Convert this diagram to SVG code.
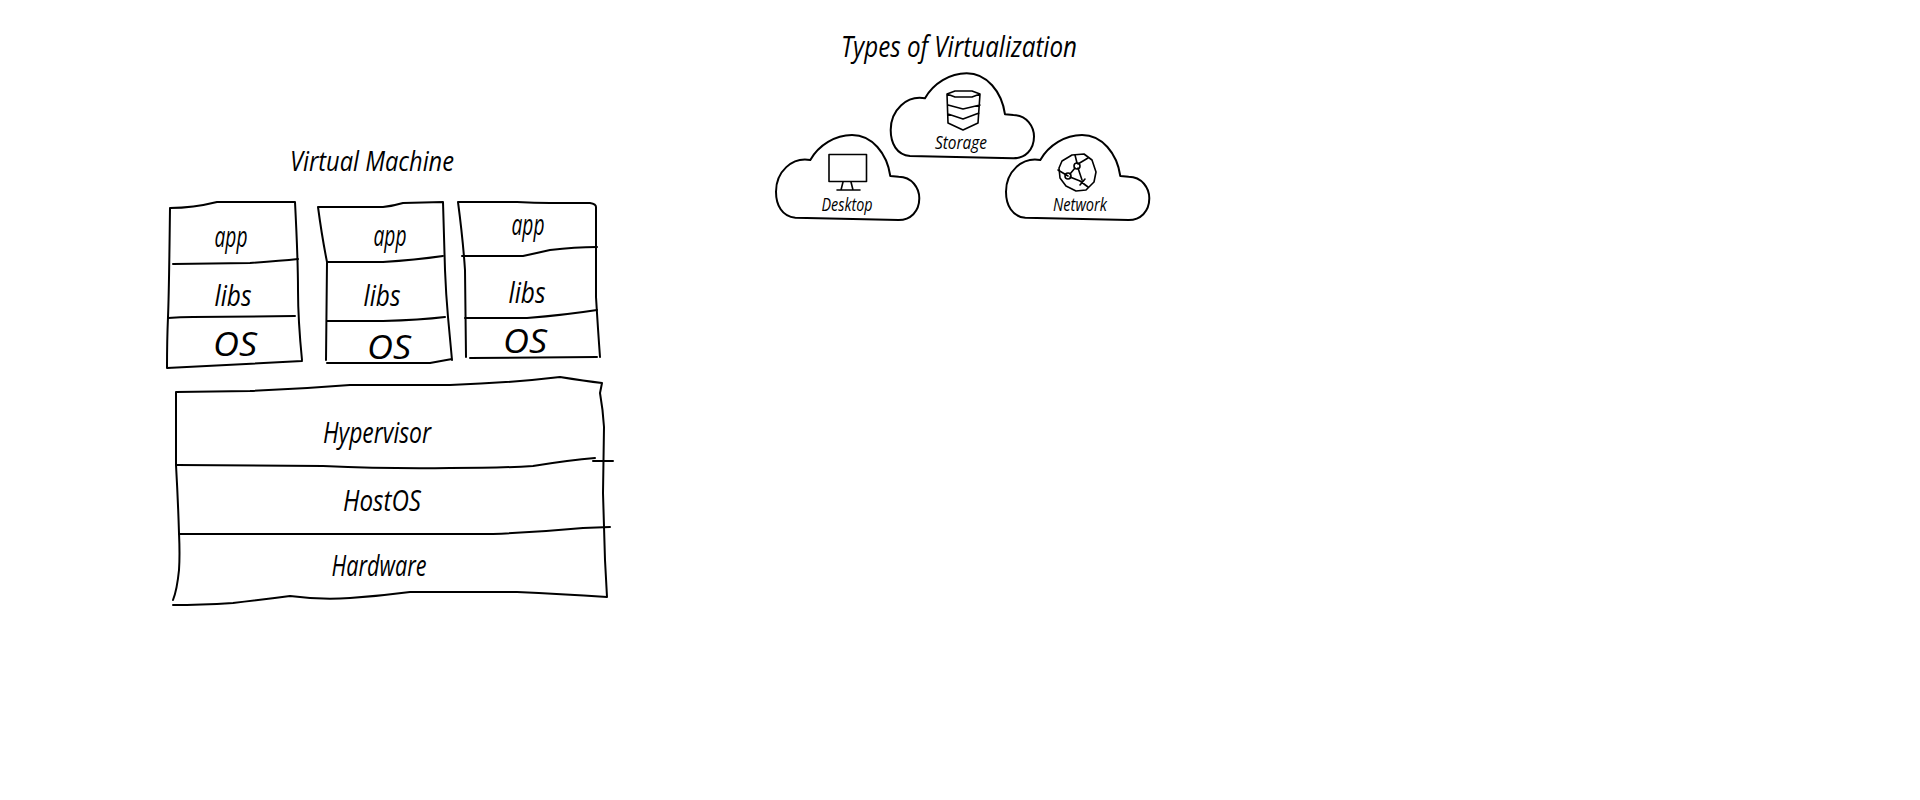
<svg xmlns="http://www.w3.org/2000/svg" width="1920" height="800" viewBox="0 0 1920 800">
<style>
.s{fill:none;stroke:#000;stroke-width:2;stroke-linecap:round;stroke-linejoin:round}
.i{fill:none;stroke:#000;stroke-width:1.6;stroke-linecap:round;stroke-linejoin:round}
text{font-family:"Open Sans","Liberation Sans",sans-serif;font-style:italic;font-weight:400;fill:#000;text-anchor:middle}
</style>
<defs>
<path id="cloud" class="s" d="M19.3 82.7C6 81.7 0 70 0 56.7C0 36.7 16 21.7 34.3 25C42.7 10 59.3 0 76 0C96 0 111 18.3 114.3 41L122.7 41.7C136 41.7 143.3 53.3 143.3 63.3C143.3 76.7 134.3 85 122.7 85Z"/>
</defs>
<rect width="1920" height="800" fill="#fff"/>
<g id="title-vm"><text x="372" y="171" font-size="28" textLength="164" lengthAdjust="spacingAndGlyphs">Virtual Machine</text></g>
<g id="title-types"><text x="959" y="57" font-size="29" textLength="236" lengthAdjust="spacingAndGlyphs">Types of Virtualization</text></g>
<g id="vm1">
<path class="s" d="M170 208Q193 208 217 202L295 202Q298 260 298 290T302 360M302 361L167 368Q167 340 168 317T170 208"/>
<path class="s" d="M173 264L250 263Q280 261 298 259M168 318Q180 317 193 317L295 316"/>
<text x="231" y="247" font-size="30" textLength="33" lengthAdjust="spacingAndGlyphs">app</text>
<text x="233" y="306" font-size="30" textLength="37" lengthAdjust="spacingAndGlyphs">libs</text>
<text x="235" y="356" font-size="33" textLength="44" lengthAdjust="spacingAndGlyphs">OS</text>
</g>
<g id="vm2">
<path class="s" d="M318 207L383 207Q393 206 403 203L443 202Q444 240 445 270Q446 295 448 317L452 360M327 363L430 363L452 359M318 207Q322 237 327 262L326 360"/>
<path class="s" d="M327 262L383 262Q415 260 443 256M327 321L383 321Q420 320 445 317"/>
<text x="390" y="246" font-size="30" textLength="33" lengthAdjust="spacingAndGlyphs">app</text>
<text x="382" y="306" font-size="30" textLength="37" lengthAdjust="spacingAndGlyphs">libs</text>
<text x="389" y="359" font-size="33" textLength="44" lengthAdjust="spacingAndGlyphs">OS</text>
</g>
<g id="vm3">
<path class="s" d="M458 202L517 202Q535 203 550 203L590 203Q596 204 596 207L596 297Q598 330 600 357M470 358L597 357M458 202Q463 240 465 270L466 357"/>
<path class="s" d="M462 256L523 256Q537 253 550 250Q575 247 597 247M465 318L527 318Q565 315 597 310"/>
<text x="528" y="235" font-size="30" textLength="33" lengthAdjust="spacingAndGlyphs">app</text>
<text x="527" y="303" font-size="30" textLength="37" lengthAdjust="spacingAndGlyphs">libs</text>
<text x="525" y="353" font-size="33" textLength="44" lengthAdjust="spacingAndGlyphs">OS</text>
</g>
<g id="stack">
<path class="s" d="M176 392L250 391Q300 389 350 385L450 385Q510 383 560 377Q585 381 602 383L600 393Q603 410 604 427L603 493Q604 530 605 560L607 597Q560 594 517 592L410 592Q380 596 350 598Q320 600 290 596Q260 600 233 603Q200 605 173 605M176 392L176 465Q178 500 179 533Q180 555 179 570Q177 590 173 600"/>
<path class="s" d="M177 465L323 466Q390 469 450 468Q500 468 533 466Q570 460 595 458M593 461L613 461M179 534L493 534Q540 532 583 528L610 527"/>
<text x="377" y="443" font-size="30" textLength="108" lengthAdjust="spacingAndGlyphs">Hypervisor</text>
<text x="382" y="511" font-size="29" textLength="78" lengthAdjust="spacingAndGlyphs">HostOS</text>
<text x="379" y="576" font-size="29" textLength="95" lengthAdjust="spacingAndGlyphs">Hardware</text>
</g>
<g id="storage">
<use href="#cloud" x="890.7" y="73.3"/>
<path class="i" d="M947 94L955 91L972 91L980 94L972 97L955 97ZM947 94L948 123L963 130L978 123L980 94M948 105L963 109L980 105M948 114L963 119L979 113"/>
<text x="961" y="149" font-size="19" textLength="52" lengthAdjust="spacingAndGlyphs">Storage</text>
</g>
<g id="desktop">
<use href="#cloud" x="776" y="135"/>
<rect class="i" x="829" y="154.5" width="37.5" height="27"/>
<path class="i" d="M843 182L841 190M851 182L853 190M837 190L860 190"/>
<text x="847" y="211" font-size="19" textLength="51" lengthAdjust="spacingAndGlyphs">Desktop</text>
</g>
<g id="network">
<use href="#cloud" x="1006" y="135"/>
<path class="i" d="M1062 161L1072 155L1084 154L1092 160L1096 172L1094 182L1086 190L1076 191L1066 186L1060 178L1059 168Z"/>
<path class="i" d="M1075 155L1077 163M1078 164L1088 158M1075 168L1070 174M1068 176L1058 170M1070 177L1080 181L1088 187M1078 168L1082 180M1080 185L1085 179"/>
<circle class="i" cx="1068" cy="176" r="3"/>
<circle class="i" cx="1077" cy="166" r="3"/>
<text x="1080" y="211" font-size="19" textLength="54" lengthAdjust="spacingAndGlyphs">Network</text>
</g>
</svg>
